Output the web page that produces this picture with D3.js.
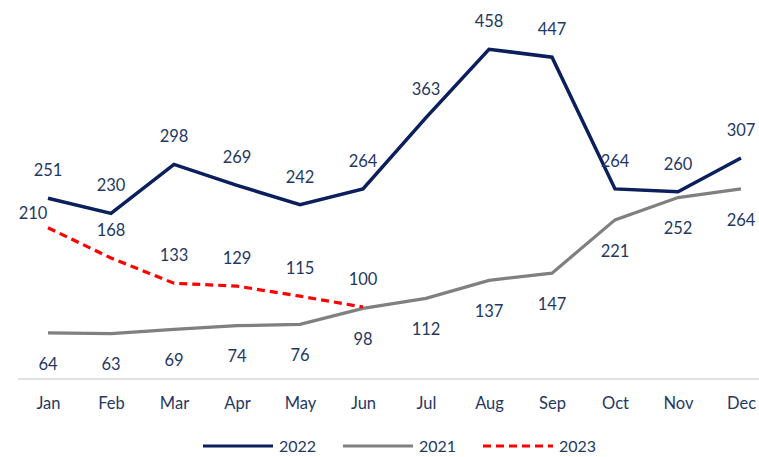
<!DOCTYPE html>
<html lang="en">
<head>
<meta charset="UTF-8">
<title>Monthly 2021-2023</title>
<script src="https://cdn.jsdelivr.net/npm/d3@7"></script>
<style>
  body { margin: 0; background: #fff; }
  svg text { font-family: Lato, "Open Sans", sans-serif; fill: #1F3864; }
</style>
</head>
<body>
<svg width="759" height="457"></svg>
<script>
var months = ['Jan','Feb','Mar','Apr','May','Jun','Jul','Aug','Sep','Oct','Nov','Dec'];
var v2022 = [251,230,298,269,242,264,363,458,447,264,260,307];
var v2021 = [64,63,69,74,76,98,112,137,147,221,252,264];
var v2023 = [210,168,133,129,115,100];

var svg = d3.select('svg');

var x = d3.scalePoint().domain(months).range([48, 741]);
var y = d3.scaleLinear().domain([0, 500]).range([379, 19]);

// axis line + month labels
var xAxis = svg.append('g').attr('transform', 'translate(0,379)')
  .call(d3.axisBottom(x).tickSize(0).tickPadding(18));
xAxis.select('.domain').remove();
xAxis.selectAll('text').attr('font-size', 16.5).style('font-family', 'Lato, "Open Sans", sans-serif').attr('fill', '#1F3864');
svg.append('line').attr('x1', 18).attr('x2', 759).attr('y1', 379).attr('y2', 379)
  .attr('stroke', '#d9d9d9').attr('stroke-width', 1.5);

var line = d3.line()
  .x(function(d, i) { return x(months[i]); })
  .y(function(d) { return y(d); });

var series = [
  { name: '2021', vals: v2021, color: '#808080', width: 3.2, dash: null, dy: 31 },
  { name: '2022', vals: v2022, color: '#0A1F5C', width: 3.5, dash: null, dy: -28 },
  { name: '2023', vals: v2023, color: '#FF0000', width: 3.2, dash: '8,5', dy: -28 }
];

series.forEach(function(s) {
  svg.append('path').datum(s.vals)
    .attr('d', line)
    .attr('fill', 'none')
    .attr('stroke', s.color)
    .attr('stroke-width', s.width)
    .attr('stroke-dasharray', s.dash);
});

// data labels
series.forEach(function(s) {
  svg.append('g').selectAll('text')
    .data(s.vals)
    .enter().append('text')
    .attr('x', function(d, i) {
      // Jan 2023 label sits to the left of its point
      return (s.name === '2023' && i === 0) ? x(months[i]) - 15 : x(months[i]);
    })
    .attr('y', function(d, i) {
      var off = (s.name === '2023' && i === 0) ? -15 : s.dy;
      return y(d) + off;
    })
    .attr('dy', '0.35em')
    .attr('text-anchor', 'middle')
    .attr('font-size', 16.5)
    .text(function(d) { return d; });
});

// legend
var legend = [
  { name: '2022', color: '#0A1F5C', dash: null, x: 203 },
  { name: '2021', color: '#808080', dash: null, x: 343 },
  { name: '2023', color: '#FF0000', dash: '8,5', x: 483 }
];
var lg = svg.append('g').selectAll('g').data(legend).enter().append('g')
  .attr('transform', function(d) { return 'translate(' + d.x + ',446)'; });
lg.append('line').attr('x1', 0).attr('x2', 70)
  .attr('stroke', function(d) { return d.color; })
  .attr('stroke-width', 3.2)
  .attr('stroke-dasharray', function(d) { return d.dash; });
lg.append('text').attr('x', 76).attr('dy', '0.35em').attr('font-size', 16)
  .text(function(d) { return d.name; });
</script>
</body>
</html>
